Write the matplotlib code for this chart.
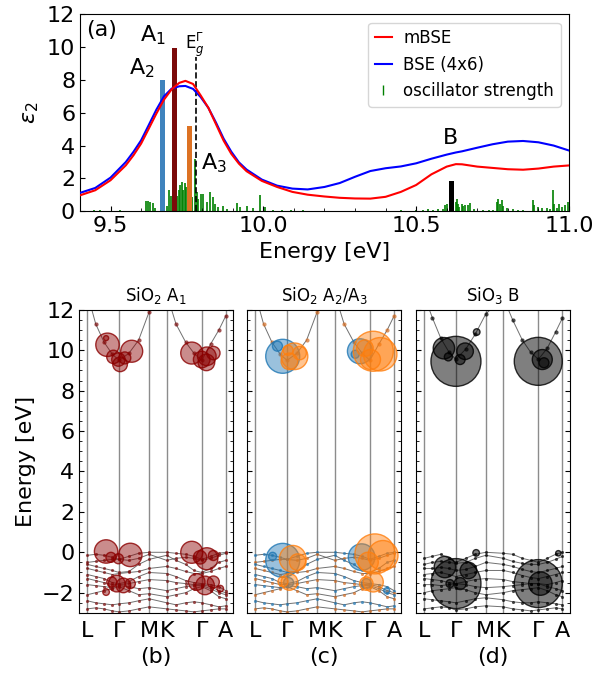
import numpy as np
import matplotlib
matplotlib.use("Agg")
import matplotlib.pyplot as plt
from matplotlib.ticker import MultipleLocator
from matplotlib.lines import Line2D
from matplotlib.colors import to_rgba

# ---------- (a) spectrum ----------
energy = [9.40, 9.45, 9.50, 9.55, 9.575, 9.60, 9.625, 9.65, 9.675, 9.70,
          9.725, 9.745, 9.77, 9.795, 9.82, 9.845, 9.87, 9.895, 9.92, 9.945,
          9.995, 10.045, 10.095, 10.145, 10.20, 10.25, 10.30, 10.35, 10.40, 10.45,
          10.50, 10.55, 10.60, 10.63, 10.65, 10.70, 10.75, 10.80, 10.85, 10.90,
          10.95, 11.00]
eps_mbse = [0.97, 1.28, 1.89, 2.8, 3.41, 4.12, 5.03, 5.95, 6.8, 7.43,
            7.82, 7.94, 7.75, 7.05, 6.3, 5.3, 4.3, 3.5, 2.9, 2.44,
            1.85, 1.48, 1.18, 1.01, 0.9, 0.82, 0.78, 0.77, 0.88, 1.18,
            1.6, 2.25, 2.72, 2.87, 2.86, 2.72, 2.64, 2.56, 2.53, 2.6,
            2.72, 2.79]
eps_bse = [1.12, 1.42, 2.05, 3.0, 3.62, 4.32, 5.25, 6.19, 7.0, 7.47,
           7.61, 7.63, 7.45, 6.95, 6.3, 5.4, 4.42, 3.63, 2.98, 2.54,
           1.93, 1.56, 1.38, 1.33, 1.48, 1.72, 2.1, 2.45, 2.62, 2.73,
           2.92, 3.2, 3.45, 3.58, 3.65, 3.87, 4.08, 4.24, 4.28, 4.2,
           4.0, 3.7]

osc_e = [9.405, 9.445, 9.465, 9.48, 9.53, 9.555, 9.585, 9.615, 9.622, 9.628, 9.638,
         9.645, 9.685, 9.690, 9.697, 9.705, 9.718, 9.724, 9.728, 9.733, 9.738,
         9.743, 9.748, 9.753, 9.768, 9.776, 9.782, 9.787, 9.795, 9.804, 9.815,
         9.825, 9.836, 9.842, 9.853, 9.869, 9.88, 9.913, 9.924, 9.945, 9.967,
         9.989, 10.005, 10.032, 10.06, 10.09, 10.13, 10.2, 10.3, 10.45, 10.5,
         10.524, 10.54, 10.555, 10.57, 10.587, 10.594, 10.601, 10.63, 10.633,
         10.636, 10.641, 10.649, 10.654, 10.66, 10.671, 10.676, 10.69, 10.72,
         10.74, 10.75, 10.763, 10.769, 10.774, 10.780, 10.785, 10.796, 10.818,
         10.834, 10.851, 10.881, 10.886, 10.9, 10.911, 10.927, 10.938, 10.947,
         10.951, 10.96, 10.968, 10.976, 10.987, 10.998]
osc_h = [0.04, 0.10, 0.05, 0.04, 0.10, 0.04, 0.03, 0.62, 0.60, 0.55, 0.50,
         0.20, 0.35, 1.30, 0.95, 0.60, 0.90, 1.30, 1.60, 1.80, 1.30,
         1.70, 1.50, 1.05, 0.85, 3.20, 1.20, 0.75, 1.05, 1.05, 0.55,
         1.15, 0.85, 0.45, 0.25, 0.35, 0.15, 0.50, 0.25, 0.30, 0.22,
         0.97, 0.25, 0.10, 0.08, 0.05, 0.05, 0.04, 0.03, 0.05, 0.08,
         0.10, 0.12, 0.10, 0.12, 0.16, 0.37, 0.47, 0.57, 0.77,
         0.47, 0.25, 0.43, 0.35, 0.40, 0.37, 0.50, 0.15, 0.10,
         0.10, 0.10, 0.57, 0.73, 0.47, 0.67, 0.30, 0.22, 0.16,
         0.10, 0.10, 0.71, 0.37, 0.26, 0.22, 0.22, 0.16, 1.32,
         0.47, 0.22, 0.47, 0.26, 0.37, 0.57]

peak_names = ["A$_2$", "A$_1$", "A$_3$", "B"]
peak_e = [9.669, 9.709, 9.758, 10.616]
peak_h = [8.0, 9.93, 5.22, 1.85]
peak_colors = ["#3f83bd", "#7b0a0a", "#dd7223", "black"]
gap_e = 9.78

# ---------- band structures ----------
k_nodes = [0.0, 0.06, 0.12, 0.18, 0.229, 0.30, 0.37, 0.446, 0.573, 0.64, 0.71,
           0.77, 0.826, 0.89, 0.95, 1.0]
k_sym = [0.0, 0.229, 0.446, 0.573, 0.826, 1.0]
k_labels = ["L", "Γ", "M", "K", "Γ", "A"]

sio2_cond = [12.8, 11.3, 10.4, 9.8, 9.5, 9.85, 10.5, 11.9, 12.8, 11.3, 10.4,
             9.85, 9.5, 10.3, 11.0, 11.7]
sio2_val = [
    [-0.15, -0.1, -0.15, -0.25, -0.35, -0.2, -0.05, 0.0, 0.0, -0.05, -0.1, -0.2, -0.35, -0.2, -0.05, 0.0],
    [-0.5, -0.45, -0.4, -0.35, -0.35, -0.4, -0.3, -0.1, -0.4, -0.3, -0.25, -0.3, -0.4, -0.3, -0.15, -0.05],
    [-0.6, -0.7, -0.8, -0.9, -1.0, -0.95, -0.6, -0.35, -0.15, -0.4, -0.6, -0.9, -1.0, -0.8, -0.5, -0.4],
    [-0.8, -0.9, -1.0, -1.1, -1.05, -1.0, -0.95, -0.8, -0.7, -0.8, -0.95, -1.05, -1.05, -0.95, -0.8, -0.7],
    [-1.1, -1.2, -1.3, -1.5, -1.55, -1.45, -1.2, -1.0, -1.05, -1.2, -1.4, -1.5, -1.55, -1.6, -1.7, -1.9],
    [-1.3, -1.4, -1.5, -1.6, -1.6, -1.55, -1.45, -1.35, -1.4, -1.5, -1.55, -1.6, -1.6, -1.7, -1.9, -2.0],
    [-1.6, -1.65, -1.7, -1.75, -1.65, -1.7, -1.8, -1.75, -1.9, -1.8, -1.7, -1.65, -1.65, -1.8, -2.0, -2.1],
    [-2.1, -2.0, -1.9, -1.8, -1.7, -1.9, -2.1, -2.05, -2.2, -2.1, -2.0, -1.8, -1.7, -1.9, -2.2, -2.3],
    [-2.4, -2.5, -2.55, -2.6, -2.55, -2.5, -2.4, -2.3, -2.5, -2.6, -2.5, -2.45, -2.5, -2.6, -2.7, -2.65],
    [-2.8, -2.75, -2.8, -2.9, -2.95, -2.9, -2.8, -2.7, -2.8, -2.85, -2.9, -2.95, -2.9, -2.85, -2.8, -2.8],
]

sio3_cond = [12.7, 11.6, 10.6, 9.9, 9.55, 10.05, 10.8, 11.8, 12.6, 11.5, 10.5,
             9.9, 9.55, 10.1, 10.9, 11.6]
sio3_val = [
    [-0.3, -0.2, -0.1, -0.3, -0.5, -0.3, -0.1, 0.0, -0.05, -0.1, -0.3, -0.4, -0.5, -0.3, -0.1, 0.0],
    [-0.6, -0.5, -0.45, -0.5, -0.55, -0.5, -0.3, -0.15, -0.3, -0.45, -0.55, -0.6, -0.6, -0.5, -0.35, -0.2],
    [-0.8, -0.8, -0.75, -0.8, -0.9, -0.85, -0.7, -0.5, -0.6, -0.7, -0.85, -0.95, -1.0, -0.9, -0.8, -0.7],
    [-1.1, -1.05, -1.0, -1.1, -1.2, -1.1, -1.0, -0.9, -0.9, -1.0, -1.15, -1.25, -1.3, -1.2, -1.1, -1.0],
    [-1.3, -1.35, -1.4, -1.5, -1.55, -1.45, -1.35, -1.3, -1.35, -1.45, -1.5, -1.55, -1.55, -1.6, -1.5, -1.4],
    [-1.6, -1.6, -1.65, -1.6, -1.55, -1.6, -1.7, -1.75, -1.7, -1.65, -1.6, -1.55, -1.55, -1.7, -1.8, -1.9],
    [-2.0, -1.9, -1.85, -1.8, -1.75, -1.85, -2.0, -2.1, -2.0, -1.9, -1.85, -1.8, -1.75, -1.9, -2.1, -2.2],
    [-2.3, -2.35, -2.4, -2.45, -2.5, -2.4, -2.3, -2.25, -2.35, -2.45, -2.5, -2.5, -2.45, -2.5, -2.55, -2.6],
    [-2.8, -2.75, -2.7, -2.75, -2.85, -2.8, -2.7, -2.65, -2.7, -2.8, -2.85, -2.9, -2.85, -2.8, -2.75, -2.8],
]

# fat-band circles: k, energy, radius (px)
a1_k = [0.145, 0.32, 0.188, 0.224, 0.27, 0.236, 0.135, 0.754, 0.863, 0.91, 0.826, 0.86,
        0.135, 0.31, 0.224, 0.17, 0.754, 0.863, 0.814, 0.91, 0.212, 0.26, 0.31, 0.176,
        0.79, 0.85, 0.91, 0.96, 0.135]
a1_e = [10.27, 9.95, 9.67, 9.54, 9.62, 9.3, 10.6, 9.86, 9.7, 9.86, 9.54, 9.4,
        0.04, -0.13, -0.32, -0.25, 0.0, -0.32, -0.25, -0.16, -1.55, -1.64, -1.55, -1.47,
        -1.47, -1.64, -1.47, -1.8, -1.97]
a1_r = [11.7, 11, 6.7, 6.7, 6, 7.3, 2.5, 11, 9.3, 6.7, 8.3, 8.3,
        11.7, 11.7, 5, 5, 11, 11, 6.7, 5, 8.3, 7.3, 5, 5,
        8.3, 9.3, 6, 3.3, 3.3]

a2_k = [0.198, 0.16, 0.754, 0.72, 0.198, 0.766, 0.125, 0.947, 0.24, 0.80]
a2_e = [9.7, 10.2, 9.95, 9.8, -0.4, -0.24, -0.2, -1.9, -1.5, -1.55]
a2_r = [17, 5, 12.5, 4, 17, 13.3, 4, 3, 5, 5]

a3_k = [0.283, 0.246, 0.32, 0.236, 0.85, 0.9, 0.83, 0.79, 0.27, 0.306, 0.862,
        0.92, 0.814, 0.246, 0.85, 0.80, 0.2]
a3_e = [9.7, 9.45, 9.86, 10.0, 9.95, 9.8, 9.54, 10.1, -0.32, -0.49, -0.08,
        -0.16, -0.49, -1.47, -1.47, -1.55, -1.45]
a3_r = [13.3, 8.3, 6.7, 5, 20, 16.7, 10, 8.3, 13.3, 8.3, 20,
        15, 10, 8.3, 10, 6.7, 5]

b_k = [0.23, 0.143, 0.296, 0.26, 0.175, 0.38, 0.825, 0.854, 0.866,
       0.23, 0.15, 0.32, 0.26, 0.187, 0.376, 0.825, 0.84, 0.97]
b_e = [9.45, 10.1, 9.95, 9.54, 9.67, 10.9, 9.45, 9.54, 9.38,
       -1.55, -0.73, -0.9, -1.55, -1.55, -0.03, -1.55, -1.55, -0.05]
b_r = [25, 10.7, 8.3, 5, 4, 3.3, 24, 10, 5,
       25, 10.7, 8.3, 6, 4, 3.3, 24, 11.7, 2.7]

fs = 16

fig = plt.figure(figsize=(5.97, 6.75), dpi=100)

# ---------- panel (a) ----------
ax = fig.add_axes([0.134, 0.687, 0.819, 0.292])
ax.vlines(osc_e, 0, osc_h, color="green", lw=1.2, zorder=1)
ax.bar(peak_e, peak_h, width=0.017, color=peak_colors, zorder=2)
ax.vlines(gap_e, 0, 9.4, color="black", ls="--", lw=1.2, zorder=2)
ax.plot(energy, eps_bse, color="blue", lw=1.5, zorder=3)
ax.plot(energy, eps_mbse, color="red", lw=1.5, zorder=3)

ax.text(9.603, 8.7, peak_names[0], fontsize=fs, ha="center", va="center")
ax.text(9.639, 10.75, peak_names[1], fontsize=fs, ha="center", va="center")
ax.text(9.838, 2.9, peak_names[2], fontsize=fs, ha="center", va="center")
ax.text(10.614, 4.45, peak_names[3], fontsize=fs, ha="center", va="center")
ax.text(9.776, 10.15, r"E$_g^{\Gamma}$", fontsize=12, ha="center", va="center")
ax.text(0.045, 0.92, "(a)", transform=ax.transAxes, fontsize=fs, ha="center", va="center")

ax.set_xlim(9.4, 11.0)
ax.set_ylim(0, 12)
ax.set_xticks([9.5, 10.0, 10.5, 11.0])
ax.set_xticklabels(["9.5", "10.0", "10.5", "11.0"])
ax.xaxis.set_minor_locator(MultipleLocator(0.1))
ax.set_yticks([0, 2, 4, 6, 8, 10, 12])
ax.tick_params(direction="in", labelsize=fs)
ax.tick_params(which="minor", direction="in")
ax.set_xlabel("Energy [eV]", fontsize=fs)
ax.set_ylabel(r"$\varepsilon_2$", fontsize=fs)

handles = [Line2D([], [], color="red", lw=1.5),
           Line2D([], [], color="blue", lw=1.5),
           Line2D([], [], color="green", marker="|", ls="none", markersize=7)]
ax.legend(handles, ["mBSE", "BSE (4x6)", "oscillator strength"], loc="upper right",
          fontsize=12, handlelength=1.0, handletextpad=0.7)


# ---------- band panels ----------
def draw_panel(ax, cond, val, dot_colors):
    for x in k_sym:
        ax.axvline(x, color="0.55", lw=1.0, zorder=0)
    bands = [cond] + val
    for i, band in enumerate(bands):
        ax.plot(k_nodes, band, color="0.3", lw=0.7, alpha=0.8, zorder=1)
        c = dot_colors[i % len(dot_colors)]
        ax.scatter(k_nodes, band, s=9 if i == 0 else 5, color=c, alpha=0.7, lw=0, zorder=2)
    ax.set_xlim(-0.058, 1.051)
    ax.set_ylim(-3, 12)
    ax.set_xticks(k_sym)
    ax.set_xticklabels(k_labels)
    ax.yaxis.set_major_locator(MultipleLocator(2))
    ax.yaxis.set_minor_locator(MultipleLocator(0.5))
    ax.tick_params(axis="y", which="both", direction="in", left=True, right=True, labelsize=fs)
    ax.tick_params(axis="x", length=0, labelsize=fs, pad=6)


def fat(ax, k, e, r, color, alpha=0.45):
    s = [(1.44 * x) ** 2 for x in r]
    ax.scatter(k, e, s=s, facecolor=to_rgba(color, alpha), edgecolor=to_rgba(color, 0.8),
               lw=1.0, zorder=3)


axb = fig.add_axes([0.133, 0.092, 0.257, 0.449])
draw_panel(axb, sio2_cond, sio2_val, ["#7b0a0a"])
fat(axb, a1_k, a1_e, a1_r, "#8b0000")
axb.set_title(r"SiO$_2$ A$_1$", fontsize=12)
axb.set_ylabel("Energy [eV]", fontsize=fs)
axb.set_xlabel("(b)", fontsize=fs)

axc = fig.add_axes([0.414, 0.092, 0.258, 0.449])
draw_panel(axc, sio2_cond, sio2_val, ["#d2691e", "#1f77b4"])
fat(axc, a2_k, a2_e, a2_r, "#1f77b4")
fat(axc, a3_k, a3_e, a3_r, "#ff7f0e")
axc.set_title(r"SiO$_2$ A$_2$/A$_3$", fontsize=12)
axc.set_xlabel("(c)", fontsize=fs)
axc.set_yticklabels([])

axd = fig.add_axes([0.697, 0.092, 0.257, 0.449])
draw_panel(axd, sio3_cond, sio3_val, ["black"])
fat(axd, b_k, b_e, b_r, "black", alpha=0.5)
axd.set_title(r"SiO$_3$ B", fontsize=12)
axd.set_xlabel("(d)", fontsize=fs)
axd.set_yticklabels([])

fig.savefig("out.png", dpi=100)
